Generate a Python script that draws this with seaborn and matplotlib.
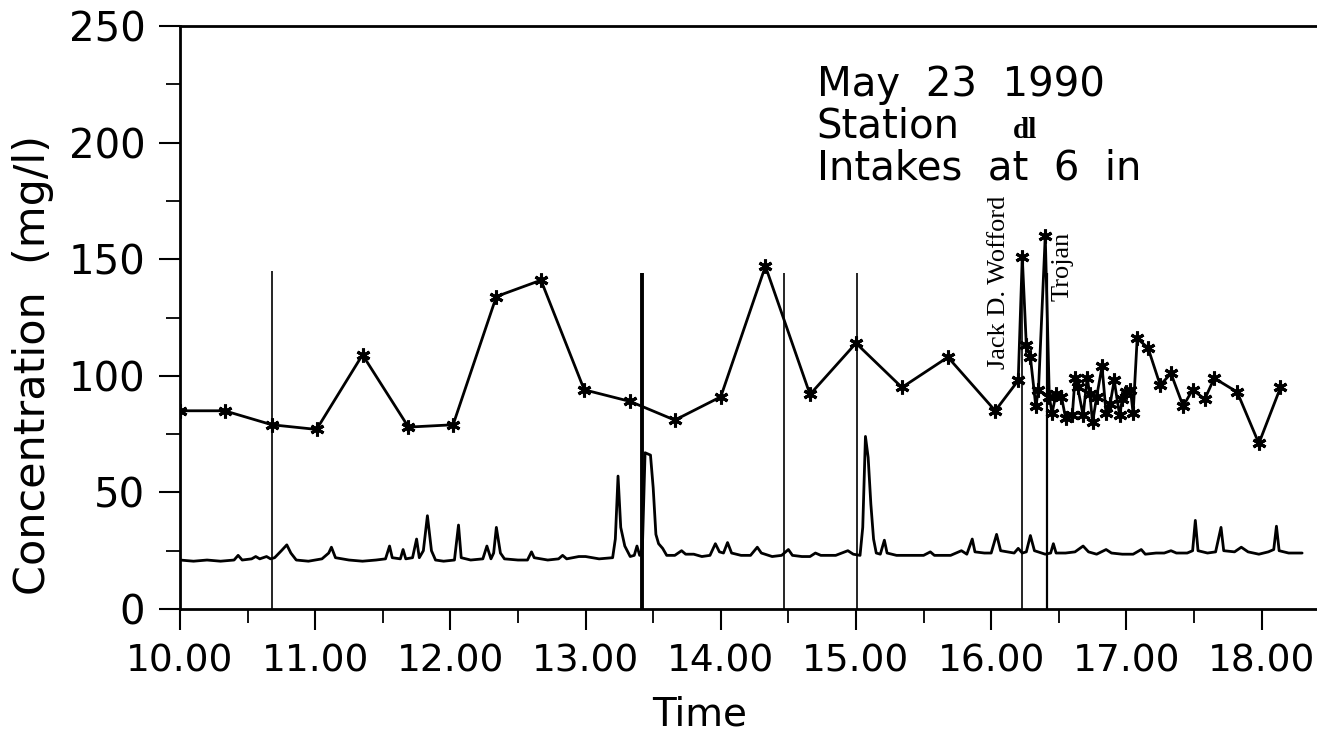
import pandas as pd
import seaborn as sns
import matplotlib.pyplot as plt
from matplotlib.ticker import MultipleLocator, FormatStrFormatter

# sampled concentration (upper line with star markers)
samp_t = [10.00, 10.33, 10.68, 11.01, 11.35, 11.69, 12.02, 12.34, 12.67, 12.99,
          13.33, 13.66, 14.00, 14.33, 14.66, 15.00, 15.34, 15.68, 16.03, 16.20,
          16.23, 16.26, 16.29, 16.33, 16.35, 16.40, 16.43, 16.45, 16.48, 16.52,
          16.55, 16.60, 16.62, 16.64, 16.68, 16.71, 16.73, 16.75, 16.78, 16.82,
          16.85, 16.88, 16.91, 16.95, 16.97, 17.00, 17.03, 17.05, 17.08, 17.16,
          17.25, 17.33, 17.42, 17.49, 17.58, 17.65, 17.82, 17.98, 18.14]
samp_c = [85, 85, 79, 77, 109, 78, 79, 134, 141, 94,
          89, 81, 91, 147, 92, 114, 95, 108, 85, 98,
          151, 113, 108, 87, 94, 160, 91, 84, 92, 91,
          82, 83, 99, 95, 83, 99, 92, 80, 91, 104,
          84, 88, 98, 83, 90, 93, 94, 84, 116, 112,
          96, 101, 87, 94, 90, 99, 93, 71, 95]

# continuous record (lower trace)
rec_t = [10.00, 10.10, 10.20, 10.30, 10.40, 10.43, 10.46, 10.53, 10.56, 10.59,
         10.64, 10.67, 10.70, 10.75, 10.79, 10.82, 10.86, 10.95, 11.05, 11.10,
         11.12, 11.15, 11.25, 11.35, 11.45, 11.52, 11.55, 11.57, 11.63, 11.65,
         11.67, 11.72, 11.75, 11.77, 11.80, 11.83, 11.86, 11.89, 11.95, 12.03,
         12.06, 12.08, 12.15, 12.24, 12.27, 12.30, 12.32, 12.34, 12.37, 12.40,
         12.50, 12.57, 12.60, 12.62, 12.72, 12.80, 12.83, 12.86, 12.95, 13.00,
         13.10, 13.20, 13.22, 13.24, 13.26, 13.29, 13.33, 13.36, 13.38, 13.40,
         13.42, 13.44, 13.48, 13.50, 13.52, 13.54, 13.57, 13.60, 13.66, 13.71,
         13.74, 13.80, 13.86, 13.92, 13.96, 13.99, 14.02, 14.05, 14.08, 14.15,
         14.22, 14.27, 14.30, 14.38, 14.45, 14.50, 14.53, 14.60, 14.66, 14.70,
         14.74, 14.85, 14.94, 14.98, 15.03, 15.05, 15.07, 15.09, 15.11, 15.13,
         15.15, 15.18, 15.21, 15.23, 15.30, 15.40, 15.50, 15.55, 15.58, 15.70,
         15.78, 15.82, 15.86, 15.88, 15.95, 16.00, 16.04, 16.07, 16.12, 16.17,
         16.20, 16.23, 16.26, 16.29, 16.32, 16.40, 16.44, 16.46, 16.48, 16.55,
         16.62, 16.68, 16.72, 16.78, 16.85, 16.89, 16.97, 17.05, 17.11, 17.14,
         17.22, 17.28, 17.33, 17.37, 17.45, 17.49, 17.51, 17.53, 17.60, 17.66,
         17.70, 17.72, 17.80, 17.85, 17.90, 17.98, 18.05, 18.09, 18.11, 18.13,
         18.20, 18.30]
rec_c = [21, 20.5, 21, 20.5, 21, 23, 21, 21.5, 22.5, 21.5,
         22.5, 21.5, 22, 25, 27.5, 24, 21, 20.5, 21.5, 24,
         26.5, 22, 21, 20.5, 21, 21.5, 27, 22, 21.5, 25.5,
         21.5, 22, 30, 22, 25, 40, 25, 21, 20.5, 21,
         36, 22, 21, 21.5, 27, 21.5, 24, 35, 24, 21.5,
         21, 21, 24.5, 22, 21, 21.5, 23, 21.5, 22.5, 22.5,
         21.5, 22, 30, 57, 35, 27, 22.5, 23, 27, 23,
         26, 67, 66, 52, 32, 28, 26, 23, 23, 25,
         23.5, 23.5, 22.5, 23, 28, 24.5, 24, 28.5, 24, 23,
         23, 26.5, 24, 22.5, 23, 25.5, 23, 22.5, 22.5, 24,
         23, 23, 25, 23.5, 23, 35, 74, 65, 45, 30,
         24, 23.5, 29.5, 24, 23, 23, 23, 24.5, 23, 23,
         25, 23.5, 30, 24.5, 24, 24, 32, 25, 24.5, 24,
         26, 24, 24.5, 31.5, 25, 23.5, 24, 28, 24, 24,
         24.5, 27, 24.5, 23.5, 25.5, 24, 23.5, 23.5, 25.5, 23.5,
         24, 24, 25, 24, 24, 25, 38, 25, 24, 24.5,
         35, 25, 24.5, 26.5, 24.5, 23.5, 24.5, 25.5, 35.5, 25,
         24, 24]

# vessel passages / marks
mark_t = [10.68, 13.42, 14.47, 15.01, 16.23, 16.41]
mark_top = [145, 144, 144, 144, 150, 144]
mark_w = [1.2, 2.8, 1.2, 1.2, 1.2, 1.6]

samp = pd.DataFrame({'time': samp_t, 'conc': samp_c})
rec = pd.DataFrame({'time': rec_t, 'conc': rec_c})

sns.set_style('ticks')
plt.rcParams['font.family'] = ['DejaVu Sans']
plt.rcParams['text.color'] = 'black'
plt.rcParams['xtick.color'] = 'black'
plt.rcParams['ytick.color'] = 'black'

fig = plt.figure(figsize=(13.17, 7.51), dpi=100)
ax = fig.add_axes([180/1317, 1-609/751, 1-180/1317, (609-26)/751])

for t, top, w in zip(mark_t, mark_top, mark_w):
    ax.vlines(t, 0, top, color='black', lw=w)

sns.lineplot(data=rec, x='time', y='conc', ax=ax, color='black', lw=2.0,
             sort=False, estimator=None)
sns.lineplot(data=samp, x='time', y='conc', ax=ax, color='black', lw=2.0,
             sort=False, estimator=None, marker=(6, 2, 0), markersize=10,
             markeredgewidth=2.2, markeredgecolor='black')

ax.set_xlim(10, 18.41)
ax.set_ylim(0, 250)
ax.xaxis.set_major_locator(MultipleLocator(1))
ax.xaxis.set_minor_locator(MultipleLocator(0.5))
ax.xaxis.set_major_formatter(FormatStrFormatter('%.2f'))
ax.yaxis.set_major_locator(MultipleLocator(50))
ax.yaxis.set_minor_locator(MultipleLocator(25))
ax.tick_params(which='major', direction='out', length=15, width=1.5,
               labelsize=27, pad=10, color='black', labelcolor='black')
ax.tick_params(which='minor', direction='out', length=10, width=1.3,
               color='black')
ax.tick_params(axis='y', labelsize=29, pad=10)
for s in ['left', 'top', 'bottom']:
    ax.spines[s].set_linewidth(2)
    ax.spines[s].set_color('black')
ax.spines['right'].set_visible(False)
ax.set_xlabel('')
ax.set_ylabel('')

fig.text(33/1317, 1-365/751, 'Concentration  (mg/l)', rotation=90,
         ha='center', va='center', fontsize=31)
fig.text(700/1317, 1-714/751, 'Time', ha='center', va='center', fontsize=28)

ax.text(14.71, 220, 'May  23  1990', fontsize=29, va='baseline')
ax.text(14.71, 202, 'Station', fontsize=29, va='baseline')
ax.text(16.16, 202, 'dl', fontsize=21, fontweight='bold',
        family='Liberation Serif', va='baseline')
ax.text(14.71, 184, 'Intakes  at  6  in', fontsize=29, va='baseline')
ax.text(16.06, 140, 'Jack D. Wofford', rotation=90, fontsize=19,
        family='Liberation Serif', ha='center', va='center')
ax.text(16.53, 147, 'Trojan', rotation=90, fontsize=19,
        family='Liberation Serif', ha='center', va='center')

fig.savefig('out.png', dpi=100)
